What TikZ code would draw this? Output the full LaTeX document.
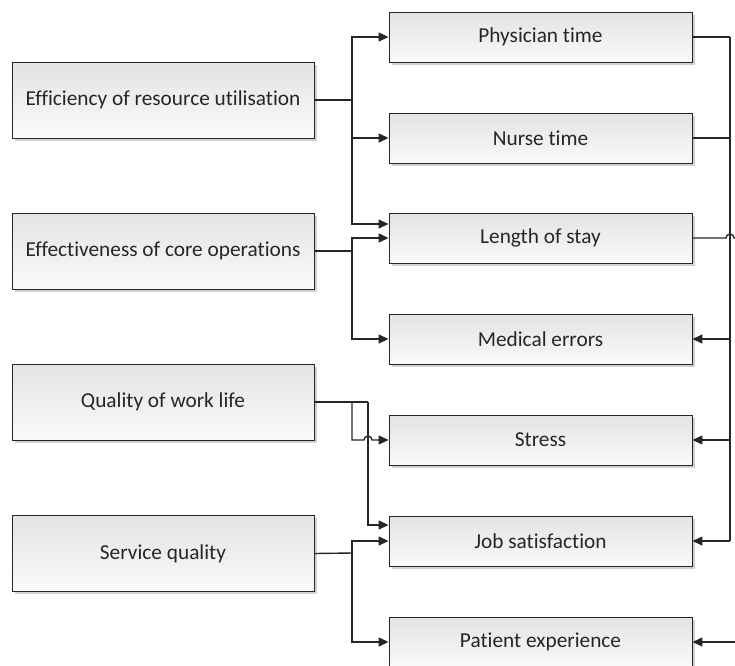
\documentclass[tikz,border=0pt]{standalone}
\usepackage{fontspec}
\setmainfont{Carlito}[Ligatures=NoCommon]
\usetikzlibrary{arrows.meta,shadows}

\begin{document}
\begin{tikzpicture}[x=1pt,y=-1pt,
  box/.style={draw=black!85,line width=0.9pt,top color=black!11,bottom color=black!2,
    drop shadow={shadow xshift=2.5pt,shadow yshift=-2.5pt,fill=black,opacity=0.18},
    inner sep=0pt,font=\fontsize{21.3}{24}\selectfont,text=black!85},
  lbox/.style={box,minimum width=302pt,minimum height=76pt},
  rbox/.style={box,minimum width=303pt,minimum height=50pt},
  link/.style={line width=1.4pt,black!85},
  arr/.style={link,-{Triangle[length=10pt,width=9pt]}}]
\useasboundingbox (0,0) rectangle (735,665);

% left boxes
\node[lbox] (effi) at (163,100) {Efficiency of resource utilisation};
\node[lbox] (effe) at (163,251) {Effectiveness of core operations};
\node[lbox] (work) at (163,402) {Quality of work life};
\node[lbox] (serv) at (163,553.5) {Service quality};

% right boxes
\node[rbox] (phys) at (540.5,37) {Physician time};
\node[rbox] (nurse) at (540.5,138) {Nurse time};
\node[rbox] (stay) at (540.5,238) {Length of stay};
\node[rbox] (err) at (540.5,339) {Medical errors};
\node[rbox] (stress) at (540.5,440) {Stress};
\node[rbox] (job) at (540.5,541) {Job satisfaction};
\node[rbox] (pat) at (540.5,642) {Patient experience};

% branch points
\coordinate (ba) at (352,100);
\coordinate (bb) at (352,251);
\coordinate (bc) at (368,402);
\coordinate (bd) at (352,553);
\coordinate (top) at (730,37);
\coordinate (bot) at (730,541);
\coordinate (out) at (745,238);
\coordinate (in) at (745,642);

% left side
\draw[link,line width=2pt] (effi.east) -- (ba);
\draw[arr] (ba) |- (phys.west);
\draw[arr] (ba) |- (nurse.west);
\draw[arr] (ba) |- ([yshift=14pt]stay.west);
\draw[link] (effe.east) -- (bb);
\draw[arr] (bb) |- (stay.west);
\draw[arr] (bb) |- (err.west);
\draw[link] (work.east) -- (bc);
\draw[arr] (bc) |- ([yshift=16pt]job.west);
\draw[arr] (352,402) -- (352,440) -- (364,440) arc[start angle=180,end angle=0,radius=4pt] -- (stress.west);
\draw[link] (serv.east) -- (bd);
\draw[arr] (bd) |- (job.west);
\draw[arr] (bd) |- (pat.west);

% right side
\draw[link,line width=2pt] (phys.east) -- (top);
\draw[link] (top) -- (bot);
\draw[link] (nurse.east) -- (730,138);
\draw[link] (stay.east) -- (726,238) arc[start angle=180,end angle=0,radius=4pt] -- (out);
\draw[arr] (730,339) -- (err.east);
\draw[arr] (730,440) -- (stress.east);
\draw[arr] (bot) -- (job.east);
\draw[arr] (in) -- (pat.east);
\end{tikzpicture}
\end{document}
